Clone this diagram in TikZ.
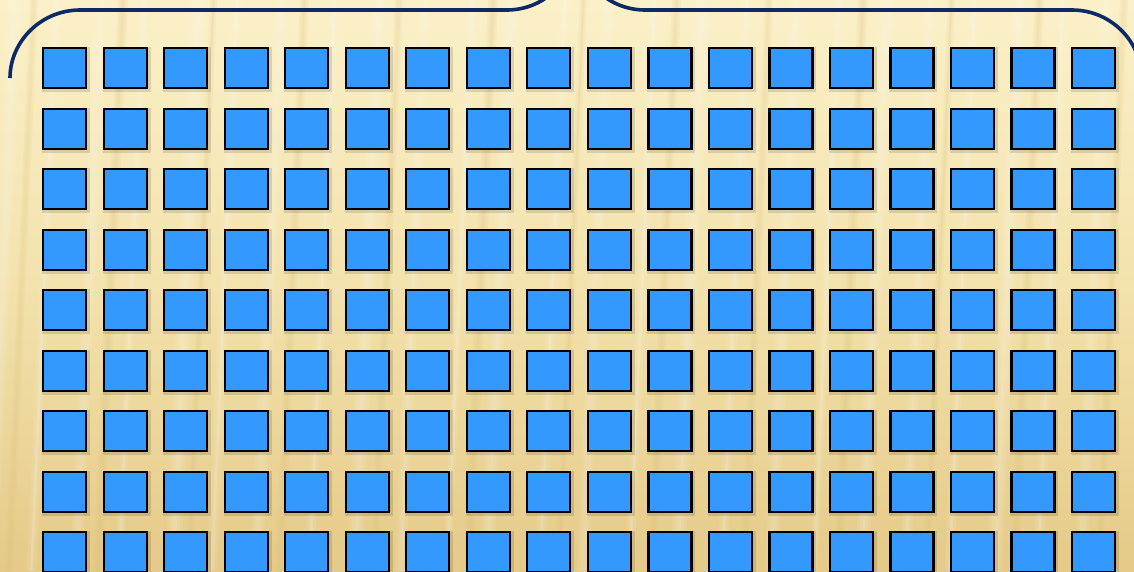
\documentclass[tikz,border=0pt]{standalone}
\usetikzlibrary{calc}
\definecolor{bgtop}{HTML}{FBF0C8}
\definecolor{bgmid}{HTML}{F3E2AC}
\definecolor{bgbot}{HTML}{E5CA88}
\definecolor{sqblue}{HTML}{3399FF}
\definecolor{bracenavy}{HTML}{0B2A66}
\definecolor{streakdark}{HTML}{D9BD78}
\tikzset{
  cell/.style={draw=black, line width=2.2pt, fill=sqblue, minimum width=43pt, minimum height=40pt, inner sep=0pt, anchor=north west},
  cellshadow/.style={draw=black, draw opacity=0.12, line width=5pt, minimum width=43pt, minimum height=40pt, inner sep=0pt, anchor=north west},
  bracestroke/.style={draw=bracenavy, line width=3.6pt},
  lightstreak/.style={fill=white, fill opacity=0.09},
  darkstreak/.style={fill=streakdark, fill opacity=0.10}
}
\begin{document}
\begin{tikzpicture}[x=1pt,y=-1pt]
\useasboundingbox (0,0) rectangle (1134,571);
\begin{scope}
\clip (0,0) rectangle (1134,571);
% background
\fill[top color=bgtop, bottom color=bgbot, middle color=bgmid, shading angle=0] (0,0) rectangle (1134,571);
% soft streaks (stacked for soft edges)
\foreach \x/\w in {8/14,52/9,95/12,140/8,190/16,232/10,275/13,330/9,372/15,420/11,468/8,505/14,560/10,602/12,650/9,695/15,742/10,790/13,835/8,880/14,925/11,970/9,1012/15,1058/10,1100/12}{
  \foreach \e in {0,3,6}{
    \fill[lightstreak] (\x+\e,0) -- (\x+\w-\e,0) -- (\x+\w-\e-25,571) -- (\x+\e-25,571) -- cycle;
  }
}
\foreach \x/\w in {30/8,118/10,210/7,300/9,395/8,488/10,580/7,672/9,765/8,858/10,948/7,1035/9,1120/8}{
  \foreach \e in {0,2,4}{
    \fill[darkstreak] (\x+\e,0) -- (\x+\w-\e,0) -- (\x+\w-\e-25,571) -- (\x+\e-25,571) -- cycle;
  }
}
% brace
\draw[bracestroke] (10,78) .. controls (10,41.3) and (41.3,10) .. (80,10)
  -- (507,10) .. controls (544.9,10) and (576,-20.8) .. (576,-58.7)
  .. controls (576,-20.8) and (607.1,10) .. (645,10)
  -- (1072,10) .. controls (1110.7,10) and (1142,41.3) .. (1142,80);
% grid of squares
\foreach \i in {0,...,17}{
  \foreach \j in {0,...,8}{
    \node[cellshadow] at ({42+60.53*\i},{47+60.5*\j}) {};
    \node[cell] (sq-\i-\j) at ({42+60.53*\i},{47+60.5*\j}) {};
  }
}
\end{scope}
\end{tikzpicture}
\end{document}
